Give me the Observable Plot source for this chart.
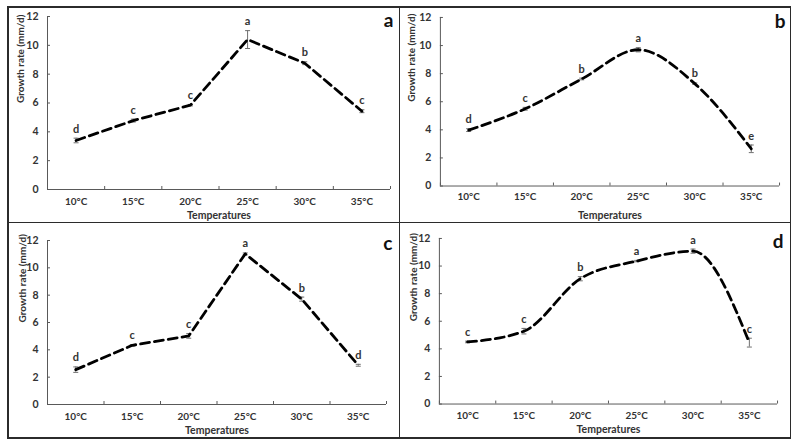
<!DOCTYPE html>
<html><head><meta charset="utf-8">
<script src="https://cdn.jsdelivr.net/npm/d3@7"></script>
<script src="https://cdn.jsdelivr.net/npm/@observablehq/plot@0.6"></script>
<style>
body{margin:0;background:#fff;}
#wrap{position:relative;width:797px;height:445px;background:#fff;overflow:hidden;}
.cell{position:absolute;}
.line{position:absolute;background:#2b2b2b;z-index:5;}
</style></head><body>
<div id="wrap"></div>
<script>
const temperatures = ["10°C", "15°C", "20°C", "25°C", "30°C", "35°C"];
const yTicks = [0, 2, 4, 6, 8, 10, 12];

const rateA = [3.4, 4.78, 5.85, 10.4, 8.76, 5.43];
const errA = [0.16, 0.1, 0.05, 0.62, 0.1, 0.1];
const lettersA = ["d", "c", "c", "a", "b", "c"];

const rateB = [3.98, 5.5, 7.62, 9.7, 7.29, 2.65];
const errB = [0.1, 0.1, 0.06, 0.15, 0.05, 0.27];
const lettersB = ["d", "c", "b", "a", "b", "e"];

const rateC = [2.55, 4.33, 5.02, 11.02, 7.71, 2.87];
const errC = [0.2, 0.05, 0.17, 0.07, 0.15, 0.07];
const lettersC = ["d", "c", "c", "a", "b", "d"];

const rateD = [4.5, 5.28, 9.08, 10.36, 11.08, 4.45];
const errD = [0.06, 0.2, 0.15, 0.05, 0.15, 0.32];
const lettersD = ["c", "c", "b", "a", "a", "c"];

const FONT = "Lato, 'Open Sans', sans-serif";
const AXIS = "#595959";
const TXT = "#333333";

function panel(cfg) {
  const data = temperatures.map((t, i) => ({t, pos: i + 0.5, v: cfg.rates[i], e: cfg.errs[i], L: cfg.letters[i]}));
  const bounds = temperatures.map((_, i) => i).concat([temperatures.length]);
  const cap = {draw(ctx) { ctx.moveTo(-2.5, 0); ctx.lineTo(2.5, 0); }};
  const p = Plot.plot({
    width: cfg.width, height: cfg.height,
    marginLeft: cfg.ml, marginRight: cfg.mr, marginTop: cfg.mt, marginBottom: cfg.mb,
    style: {background: "transparent", fontFamily: FONT, overflow: "visible"},
    x: {domain: [0, temperatures.length], label: null},
    y: {domain: [0, 12], label: null},
    marks: [
      Plot.ruleX([0], {stroke: AXIS, strokeWidth: 1}),
      Plot.ruleY([0], {stroke: AXIS, strokeWidth: 1}),
      Plot.axisY(yTicks, {tickSize: 0, tickPadding: 9, fontSize: 10.5, fontWeight: "bold", fill: TXT, label: null}),
      Plot.axisY(yTicks, {tickSize: -3, tickFormat: () => "", stroke: AXIS, label: null}),
      Plot.axisX(data.map(d => d.pos), {tickSize: 0, tickPadding: cfg.xpad, fontSize: 10, fontWeight: "bold", fill: TXT, label: null,
        tickFormat: p => temperatures[Math.floor(p)]}),
      Plot.axisX(bounds, {tickSize: -3, tickFormat: () => "", stroke: AXIS, label: null}),
      Plot.ruleX(data, {x: "pos", y1: d => d.v - d.e, y2: d => d.v + d.e, stroke: "#6f6f6f", strokeWidth: 1}),
      Plot.dot(data, {x: "pos", y: d => d.v + d.e, symbol: cap, fill: "none", stroke: "#6f6f6f", strokeWidth: 1}),
      Plot.dot(data, {x: "pos", y: d => d.v - d.e, symbol: cap, fill: "none", stroke: "#6f6f6f", strokeWidth: 1}),
      Plot.line(data, {x: "pos", y: "v", stroke: "#000", strokeWidth: 2.8, strokeDasharray: "9,5", curve: cfg.curve}),
      Plot.text(data, {x: "pos", y: d => d.v + d.e, text: "L", dy: -9, fontSize: 11, fontWeight: "bold", fill: TXT}),
      Plot.text(["Growth rate (mm/d)"], {frameAnchor: "left", rotate: -90, dx: -cfg.ytd, fontSize: 10, fontWeight: "bold", fill: TXT}),
      Plot.text(["Temperatures"], {frameAnchor: "bottom", lineAnchor: "middle", dy: cfg.xtd, fontSize: 10.5, fontWeight: "bold", fill: TXT}),
      Plot.text([cfg.tag], {frameAnchor: "top-right", textAnchor: "end", dx: cfg.tdx, dy: cfg.tdy, fontSize: 19, fontWeight: "bold", fill: "#111"})
    ]
  });
  const div = document.createElement("div");
  div.className = "cell";
  div.style.left = cfg.left + "px";
  div.style.top = cfg.top + "px";
  div.appendChild(p);
  document.getElementById("wrap").appendChild(div);
}

panel({tag: "a", rates: rateA, errs: errA, letters: lettersA, curve: "linear",
  left: 0, top: 0, width: 399, height: 222, ml: 47, mr: 9, mt: 16, mb: 33, xpad: 8, ytd: 27, xtd: 26, tdx: 3, tdy: -3});
panel({tag: "b", rates: rateB, errs: errB, letters: lettersB, curve: "monotone-x",
  left: 399, top: 0, width: 399, height: 222, ml: 41, mr: 18, mt: 17, mb: 36, xpad: 7, ytd: 29, xtd: 30, tdx: 6, tdy: -3});
panel({tag: "c", rates: rateC, errs: errC, letters: lettersC, curve: "linear",
  left: 0, top: 222, width: 399, height: 223, ml: 47, mr: 13, mt: 18, mb: 41, xpad: 8, ytd: 25, xtd: 26, tdx: 6, tdy: -4});
panel({tag: "d", rates: rateD, errs: errD, letters: lettersD, curve: "monotone-x",
  left: 399, top: 222, width: 399, height: 223, ml: 40, mr: 20, mt: 16, mb: 41, xpad: 8, ytd: 26, xtd: 26, tdx: 6, tdy: -4});

function line(l, t, w, h) {
  const d = document.createElement("div");
  d.className = "line";
  Object.assign(d.style, {left: l + "px", top: t + "px", width: w + "px", height: h + "px"});
  document.getElementById("wrap").appendChild(d);
}
line(7, 6, 784, 1.5);
line(7, 437, 784, 1.5);
line(7, 6, 1.5, 432);
line(789.5, 6, 1.5, 432);
line(398.5, 6, 1.5, 432);
line(7, 221.5, 784, 1.5);
</script>
</body></html>
